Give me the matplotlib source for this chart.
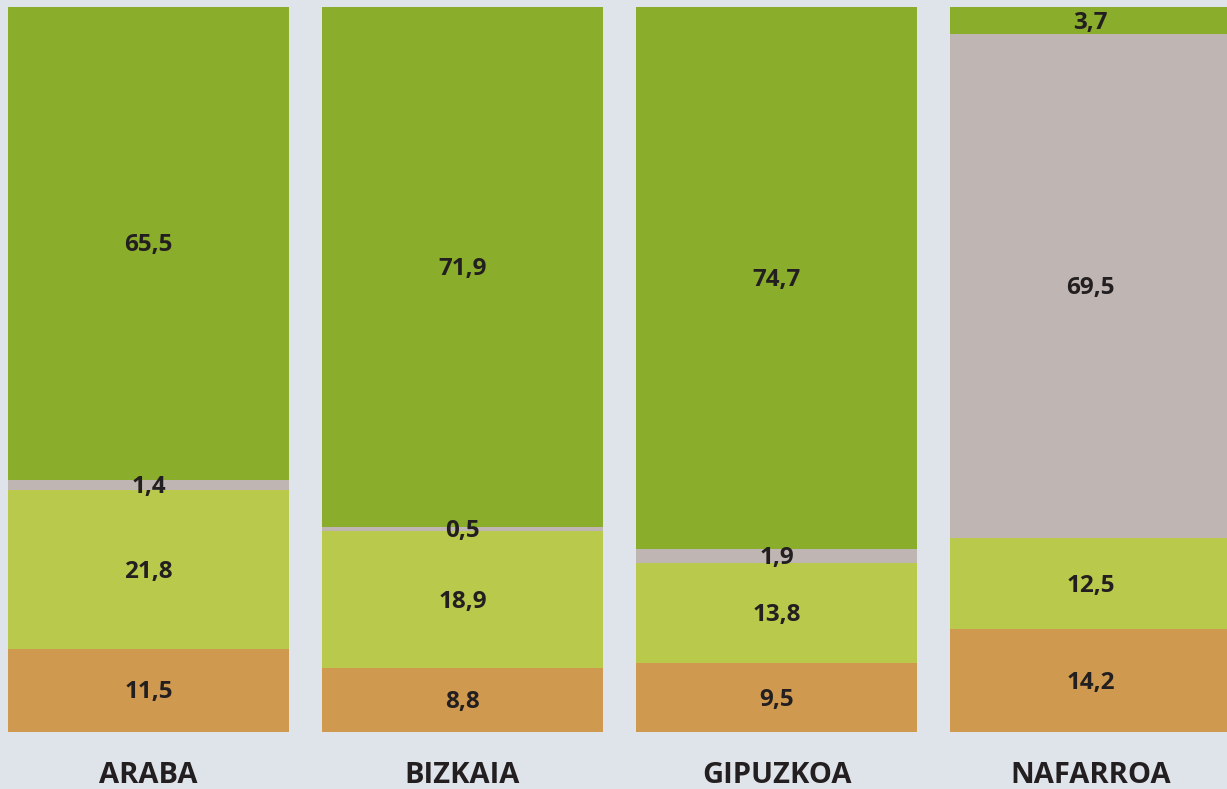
import numpy as np
import matplotlib.pyplot as plt

# Herrialdeak eta segmentuen balioak (%), behetik gora pilatuta
regions = ["ARABA", "BIZKAIA", "GIPUZKOA", "NAFARROA"]
seg_orange = [11.5, 8.8, 9.5, 14.2]
seg_lightgreen = [21.8, 18.9, 13.8, 12.5]
seg_gray = [1.4, 0.5, 1.9, 69.5]
seg_green = [65.5, 71.9, 74.7, 3.7]

layers = [seg_orange, seg_lightgreen, seg_gray, seg_green]
colors = ["#cf9a4f", "#b9c94c", "#bfb5b2", "#8aad2c"]

bg = "#dfe3ea"
txt = "#231f20"
plt.rcParams['font.family'] = ['Open Sans', 'DejaVu Sans']

fig = plt.figure(figsize=(12.27, 7.89), dpi=100, facecolor=bg)
ax = fig.add_axes([0, 57 / 789, 1, 725 / 789])
ax.set_facecolor(bg)

x = np.arange(len(regions))
width = 281 / 314
bottom = np.zeros(len(regions))
for vals, col in zip(layers, colors):
    vals = np.array(vals)
    ax.bar(x, vals, width=width, bottom=bottom, color=col, linewidth=0)
    for xi, b, v in zip(x, bottom, vals):
        ax.text(xi, b + v / 2 - 0.3, f"{v:.1f}".replace(".", ","), ha='center', va='center',
                fontsize=17.5, fontweight='bold', color=txt)
    bottom += vals

for xi, name in zip(x, regions):
    ax.text(xi, -7.0, name, ha='center', va='baseline', fontsize=21,
            fontweight='bold', color=txt, clip_on=False)

left = -width / 2 - 8 / 314
ax.set_xlim(left, left + 1227 / 314)
ax.set_ylim(0, 99.9)
ax.axis('off')

fig.savefig("out.png", dpi=100, facecolor=bg)
